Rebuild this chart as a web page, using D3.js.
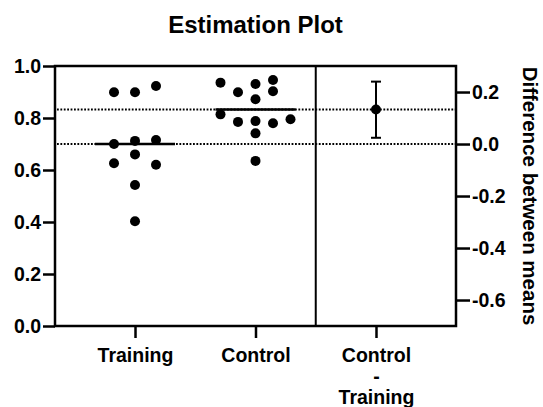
<!DOCTYPE html>
<html>
<head>
<meta charset="utf-8">
<script src="https://cdn.jsdelivr.net/npm/d3@7"></script>
<style>
    body { margin: 0; background: #fff; }
    svg text { font-family: "Liberation Sans", Arial, Helvetica, sans-serif; font-weight: bold; fill: #000; }
</style>
</head>
<body>
<div id="chart"></div>
<script>

// x categories (the last one is the difference panel)
const categories = ["Training", "Control", "Control - Training"];
const diffLabelLines = ["Control", "-", "Training"];

// observations, in entry order
const training = [0.899, 0.899, 0.923, 0.712, 0.700, 0.715, 0.660, 0.626, 0.620, 0.542, 0.403];
const control = [0.931, 0.899, 0.946, 0.903, 0.936, 0.872, 0.788, 0.785, 0.780, 0.814, 0.795, 0.741, 0.635];

// 95% CI of the difference between means
const diffCI = [0.024, 0.240];

const leftTicks = [0.0, 0.2, 0.4, 0.6, 0.8, 1.0];
const rightTicks = [-0.6, -0.4, -0.2, 0.0, 0.2];


let W = 543, H = 407;
let margin = {top: 66, right: 87, bottom: 81, left: 55};
let width = W - margin.left - margin.right;
let height = H - margin.top - margin.bottom;

let svg = d3.select("#chart").append("svg")
    .attr("width", W)
    .attr("height", H);

let g = svg.append("g")
    .attr("transform", `translate(${margin.left},${margin.top})`);

let x = d3.scalePoint()
    .domain(categories)
    .range([0, width])
    .padding(0.664);

let y = d3.scaleLinear()
    .domain([0, 1])
    .range([height, 0]);

let meanT = d3.mean(training);
let meanC = d3.mean(control);
let diff = meanC - meanT;

// right axis is the left one shifted so 0 sits on the Training mean
let yDiff = d3.scaleLinear()
    .domain([y.domain()[0] - meanT, y.domain()[1] - meanT])
    .range(y.range());

// simple column scatter: put each point in the first free slot near the centre
function swarm(values, minGap) {
    let placed = [];
    values.forEach(v => {
        let k = 0, slot;
        while (true) {
            let cands;
            if (k === 0) {
                cands = [0];
            } else {
                let nPos = placed.filter(p => p.slot > 0).length;
                let nNeg = placed.filter(p => p.slot < 0).length;
                cands = nPos < nNeg ? [k, -k] : [-k, k];
            }
            slot = cands.find(s => !placed.some(p => p.slot === s && Math.abs(y(p.v) - y(v)) < minGap));
            if (slot !== undefined) break;
            k++;
        }
        placed.push({v: v, slot: slot});
    });
    let maxSlot = d3.max(placed, p => Math.abs(p.slot)) || 1;
    let step = Math.min(21, 35 / maxSlot);
    placed.forEach(p => p.dx = p.slot * step);
    return placed;
}

let r = 5;

// dotted reference lines at both means
[meanT, meanC].forEach(m => {
    g.append("line")
        .attr("x1", 2).attr("x2", width)
        .attr("y1", y(m)).attr("y2", y(m))
        .attr("stroke", "#000")
        .attr("stroke-width", 2)
        .attr("stroke-dasharray", "1.8,1.6");
});

// divider between the two panels
let divX = (x("Control") + x(categories[2])) / 2;
g.append("line")
    .attr("x1", divX).attr("x2", divX)
    .attr("y1", 0).attr("y2", height)
    .attr("stroke", "#000")
    .attr("stroke-width", 2);

// groups: dots + mean line
[["Training", training, meanT], ["Control", control, meanC]].forEach(([name, vals, m]) => {
    let pts = swarm(vals, 2 * r + 0.8);

    g.append("line")
        .attr("x1", x(name) - 40).attr("x2", x(name) + 40)
        .attr("y1", y(m)).attr("y2", y(m))
        .attr("stroke", "#000")
        .attr("stroke-width", 2.5);

    g.selectAll(".dot-" + name)
        .data(pts)
        .enter()
        .append("circle")
        .attr("class", "dot-" + name)
        .attr("cx", d => x(name) + d.dx)
        .attr("cy", d => y(d.v))
        .attr("r", r)
        .attr("fill", "#000");
});

// difference with CI
let dx = x(categories[2]);
g.append("line")
    .attr("x1", dx).attr("x2", dx)
    .attr("y1", yDiff(diffCI[0])).attr("y2", yDiff(diffCI[1]))
    .attr("stroke", "#000").attr("stroke-width", 2);
diffCI.forEach(c => {
    g.append("line")
        .attr("x1", dx - 5).attr("x2", dx + 5)
        .attr("y1", yDiff(c)).attr("y2", yDiff(c))
        .attr("stroke", "#000").attr("stroke-width", 2);
});
g.append("circle")
    .attr("cx", dx).attr("cy", yDiff(diff))
    .attr("r", r).attr("fill", "#000");

// axes
let axisLeft = d3.axisLeft(y)
    .tickValues(leftTicks)
    .tickFormat(d => d.toFixed(1))
    .tickSize(12)
    .tickPadding(2)
    .tickSizeOuter(0);

let axisRight = d3.axisRight(yDiff)
    .tickValues(rightTicks)
    .tickFormat(d => d.toFixed(1))
    .tickSize(14)
    .tickPadding(2)
    .tickSizeOuter(0);

let axisBottom = d3.axisBottom(x)
    .tickSize(12)
    .tickPadding(10)
    .tickSizeOuter(0);

let gl = g.append("g").call(axisLeft);
let gr = g.append("g").attr("transform", `translate(${width},0)`).call(axisRight);
let gb = g.append("g").attr("transform", `translate(0,${height})`).call(axisBottom);

[gl, gr, gb].forEach(a => {
    a.attr("font-family", null);
    a.select(".domain").remove();
    a.selectAll(".tick line").attr("stroke", "#000").attr("stroke-width", 2.5);
    a.selectAll(".tick text")
        .attr("font-size", 19.5);
});

// multi-line label for the difference column
gb.selectAll(".tick text").each(function (d) {
    if (d !== categories[2]) return;
    let t = d3.select(this).text("");
    diffLabelLines.forEach((s, i) => {
        t.append("tspan")
            .attr("x", 0)
            .attr("dy", i === 0 ? "0.71em" : "1.07em")
            .text(s);
    });
});

// frame
g.append("rect")
    .attr("x", 0).attr("y", 0)
    .attr("width", width).attr("height", height)
    .attr("fill", "none")
    .attr("stroke", "#000")
    .attr("stroke-width", 2.5);

// title
svg.append("text")
    .attr("x", margin.left + width / 2)
    .attr("y", 33)
    .attr("text-anchor", "middle")
    .attr("font-size", 24)
    .text("Estimation Plot");

// right axis title
svg.append("text")
    .attr("transform", `translate(523,${margin.top + height / 2}) rotate(90)`)
    .attr("text-anchor", "middle")
    .attr("font-size", 20.5)
    .text("Difference between means");

</script>
</body>
</html>
